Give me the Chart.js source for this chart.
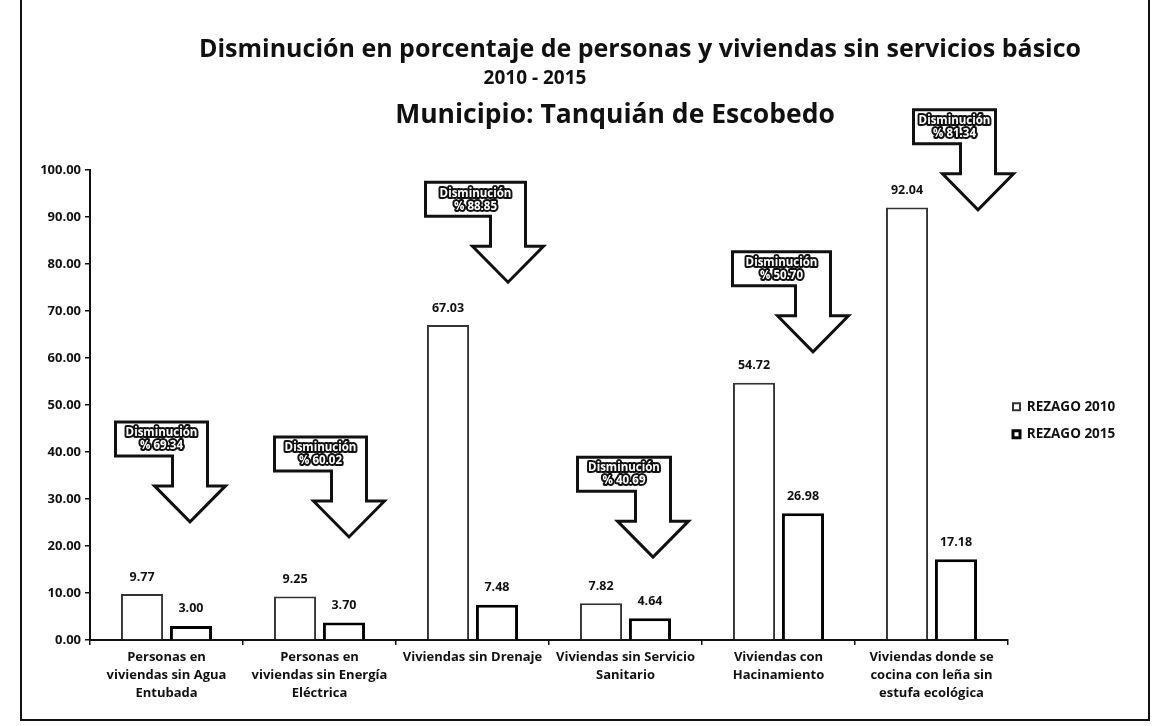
<!DOCTYPE html>
<html lang="es">
<head>
<meta charset="utf-8">
<title>Disminución de rezago 2010 - 2015</title>
<script src="https://cdn.jsdelivr.net/npm/chart.js@4.4.1/dist/chart.umd.min.js"></script>
<style>
  html, body { margin: 0; padding: 0; background: #fff; }
  #frame {
    position: absolute; left: 20px; top: 0; width: 1130px; height: 721px;
    box-sizing: border-box; border: 2px solid #111; border-top: none;
  }
</style>
</head>
<body>
<div id="frame"><canvas id="chart"></canvas></div>
<script>
const CATEGORIES = [
  ['Personas en', 'viviendas sin Agua', 'Entubada'],
  ['Personas en', 'viviendas sin Energía', 'Eléctrica'],
  'Viviendas sin Drenaje',
  ['Viviendas sin Servicio', 'Sanitario'],
  ['Viviendas con', 'Hacinamiento'],
  ['Viviendas donde se', 'cocina con leña sin', 'estufa ecológica'],
];
const REZAGO_2010 = [9.77, 9.25, 67.03, 7.82, 54.72, 92.04];
const REZAGO_2015 = [3.00, 3.70, 7.48, 4.64, 26.98, 17.18];
const DISMINUCION = ['69.34', '60.02', '88.85', '40.69', '50.70', '81.34'];
const Y_TICKS = [0, 10, 20, 30, 40, 50, 60, 70, 80, 90, 100];

// callout placement: box top (axis units), box left offset from category centre, box width
const ARROW_AT = [46.4, 43.2, 97.4, 38.9, 82.6, 112.8];
const ARROW_DX = [-51, -45, -47, -48, -46, -18];
const ARROW_W = [92, 92, 100, 93, 98, 82];

const FONT = '"Open Sans", Lato, sans-serif';
const INK = '#111';

const titlePlugin = {
  id: 'titleLines',
  afterDraw(chart) {
    const ctx = chart.ctx;
    ctx.save();
    ctx.fillStyle = INK;
    ctx.textAlign = 'center';
    ctx.textBaseline = 'alphabetic';
    ctx.font = `bold 25px ${FONT}`;
    ctx.fillText('Disminución en porcentaje de personas y viviendas sin servicios básico', 618, 57);
    ctx.font = `bold 19px ${FONT}`;
    ctx.fillText('2010 - 2015', 513, 84);
    ctx.font = `bold 26.5px ${FONT}`;
    ctx.fillText('Municipio: Tanquián de Escobedo', 593, 123);
    ctx.restore();
  },
};

const valueLabels = {
  id: 'valueLabels',
  afterDatasetsDraw(chart) {
    const ctx = chart.ctx;
    ctx.save();
    ctx.fillStyle = INK;
    ctx.font = `bold 12.5px ${FONT}`;
    ctx.textAlign = 'center';
    ctx.textBaseline = 'middle';
    chart.data.datasets.forEach((ds, di) => {
      chart.getDatasetMeta(di).data.forEach((bar, i) => {
        ctx.fillText(ds.data[i].toFixed(2), bar.x, bar.y - 17);
      });
    });
    ctx.restore();
  },
};

const callouts = {
  id: 'callouts',
  afterDatasetsDraw(chart) {
    const { ctx, scales: { x, y } } = chart;
    const h = 34, stemW = 35, stemLen = 30, over = 18, head = 36;
    ctx.save();
    DISMINUCION.forEach((pct, i) => {
      const left = x.getPixelForValue(i) + ARROW_DX[i];
      const top = y.getPixelForValue(ARROW_AT[i]);
      const right = left + ARROW_W[i];
      const sl = right - stemW;
      const base = top + h + stemLen;
      const tip = (sl + right) / 2;

      ctx.beginPath();
      ctx.moveTo(left, top);
      ctx.lineTo(right, top);
      ctx.lineTo(right, base);
      ctx.lineTo(right + over, base);
      ctx.lineTo(tip, base + head);
      ctx.lineTo(sl - over, base);
      ctx.lineTo(sl, base);
      ctx.lineTo(sl, top + h);
      ctx.lineTo(left, top + h);
      ctx.closePath();
      ctx.fillStyle = '#fff';
      ctx.fill();
      ctx.lineWidth = 3;
      ctx.strokeStyle = INK;
      ctx.lineJoin = 'miter';
      ctx.stroke();

      const cx = left + ARROW_W[i] / 2;
      ctx.font = `bold 11.5px ${FONT}`;
      ctx.textAlign = 'center';
      ctx.textBaseline = 'middle';
      ctx.lineWidth = 4;
      ctx.lineJoin = 'round';
      ['Disminución', '% ' + pct].forEach((t, k) => {
        const ty = top + 11 + k * 13;
        ctx.strokeText(t, cx, ty);
        ctx.fillStyle = '#fff';
        ctx.fillText(t, cx, ty);
      });
    });
    ctx.restore();
  },
};

// keep the legend column a fixed width and nudge it next to the axis end
const legendPlace = {
  id: 'legendPlace',
  beforeInit(chart) {
    const fit = chart.legend.fit;
    chart.legend.fit = function () {
      fit.call(this);
      this.width = 140;
    };
  },
  afterLayout(chart) {
    const lg = chart.legend;
    lg.left -= 9; lg.right -= 9;
    lg.top -= 24; lg.bottom -= 24;
  },
};

new Chart(document.getElementById('chart'), {
  type: 'bar',
  data: {
    labels: CATEGORIES,
    datasets: [
      {
        label: 'REZAGO 2010',
        data: REZAGO_2010,
        backgroundColor: '#fff',
        borderColor: '#333',
        borderWidth: 2,
        categoryPercentage: 0.64,
        barPercentage: 0.86,
      },
      {
        label: 'REZAGO 2015',
        data: REZAGO_2015,
        backgroundColor: '#fff',
        borderColor: '#000',
        borderWidth: 3,
        categoryPercentage: 0.64,
        barPercentage: 0.86,
      },
    ],
  },
  options: {
    responsive: true,
    maintainAspectRatio: false,
    animation: false,
    layout: { padding: { top: 170, left: 0, right: 0, bottom: 0 } },
    plugins: {
      title: { display: false },
      tooltip: { enabled: false },
      legend: {
        position: 'right',
        labels: {
          color: INK,
          font: { family: FONT, size: 13.5, weight: 'bold' },
          boxWidth: 7,
          boxHeight: 7,
          padding: 14,
        },
      },
    },
    scales: {
      x: {
        offset: true,
        grid: { drawOnChartArea: false, offset: true, color: INK, tickLength: 5, lineWidth: 1.5 },
        border: { display: true, color: INK, width: 2 },
        ticks: {
          color: INK,
          autoSkip: false,
          maxRotation: 0,
          padding: 3,
          font: { family: FONT, size: 13, weight: 'bold', lineHeight: 1.4 },
        },
        afterFit(scale) { scale.height = 79; },
      },
      y: {
        min: 0,
        max: 100,
        afterBuildTicks(scale) { scale.ticks = Y_TICKS.map((v) => ({ value: v })); },
        grid: { drawOnChartArea: false, color: INK, tickLength: 5, lineWidth: 1.5 },
        border: { display: true, color: INK, width: 2 },
        ticks: {
          color: INK,
          padding: 4,
          font: { family: FONT, size: 13, weight: 'bold' },
          callback: (v) => Number(v).toFixed(2),
        },
        afterFit(scale) { scale.width = 68; },
      },
    },
  },
  plugins: [legendPlace, valueLabels, callouts, titlePlugin],
});
</script>
</body>
</html>
